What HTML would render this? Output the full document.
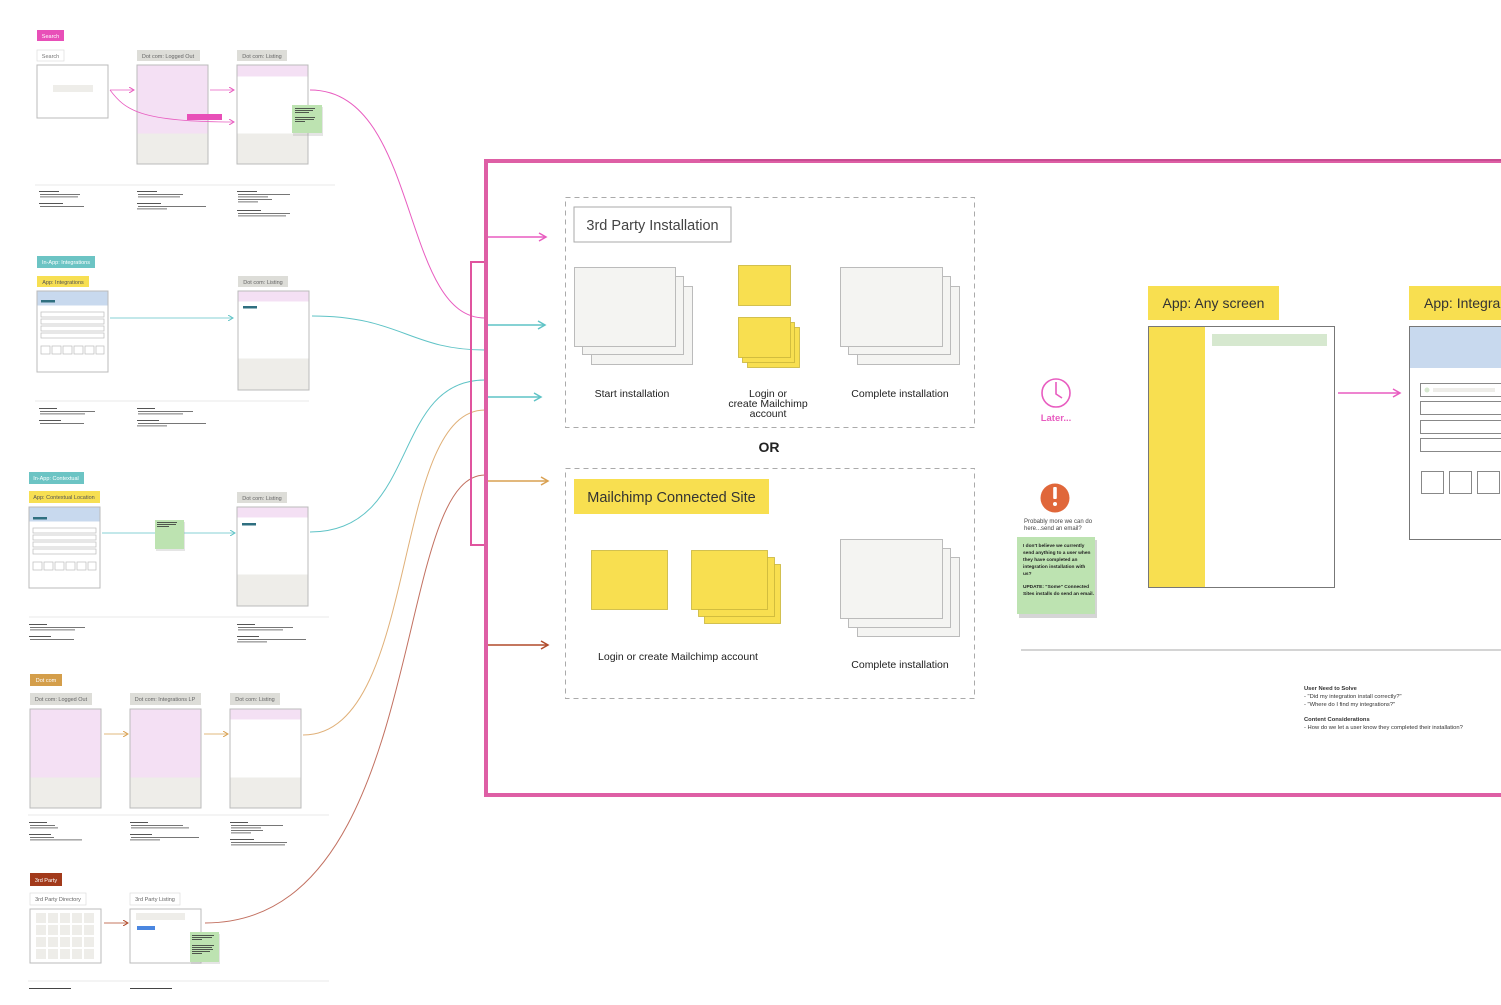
<!DOCTYPE html>
<html><head><meta charset="utf-8"><style>
html,body{margin:0;padding:0;background:#fff;}
svg{display:block;font-family:"Liberation Sans",sans-serif;}
</style></head><body>
<svg width="1501" height="1005" viewBox="0 0 1501 1005" xmlns="http://www.w3.org/2000/svg">
<defs>
<marker id="ap" markerWidth="10" markerHeight="10" refX="8" refY="5" orient="auto" markerUnits="userSpaceOnUse"><path d="M1,1 L8,5 L1,9" fill="none" stroke="#e85cc0" stroke-width="1.5"/></marker>
<marker id="at" markerWidth="10" markerHeight="10" refX="8" refY="5" orient="auto" markerUnits="userSpaceOnUse"><path d="M1,1 L8,5 L1,9" fill="none" stroke="#5fc3c6" stroke-width="1.5"/></marker>
<marker id="ao" markerWidth="10" markerHeight="10" refX="8" refY="5" orient="auto" markerUnits="userSpaceOnUse"><path d="M1,1 L8,5 L1,9" fill="none" stroke="#d9a050" stroke-width="1.5"/></marker>
<marker id="ab" markerWidth="10" markerHeight="10" refX="8" refY="5" orient="auto" markerUnits="userSpaceOnUse"><path d="M1,1 L8,5 L1,9" fill="none" stroke="#b04a2a" stroke-width="1.5"/></marker>
<marker id="sp" markerWidth="6" markerHeight="6" refX="5" refY="3" orient="auto" markerUnits="userSpaceOnUse"><path d="M0,0 L5,3 L0,6" fill="none" stroke="#e85cc0" stroke-width="1"/></marker>
<marker id="st" markerWidth="6" markerHeight="6" refX="5" refY="3" orient="auto" markerUnits="userSpaceOnUse"><path d="M0,0 L5,3 L0,6" fill="none" stroke="#5fc3c6" stroke-width="1"/></marker>
<marker id="so" markerWidth="6" markerHeight="6" refX="5" refY="3" orient="auto" markerUnits="userSpaceOnUse"><path d="M0,0 L5,3 L0,6" fill="none" stroke="#d9a050" stroke-width="1"/></marker>
<marker id="sb" markerWidth="6" markerHeight="6" refX="5" refY="3" orient="auto" markerUnits="userSpaceOnUse"><path d="M0,0 L5,3 L0,6" fill="none" stroke="#b04a2a" stroke-width="1"/></marker>
</defs>

<!-- ===== Section 1: Search ===== -->
<rect x="37" y="30" width="27" height="11" fill="#e84fb8"/>
<text x="50.5" y="38" font-size="5.5" fill="#fff" text-anchor="middle">Search</text>
<rect x="37" y="50" width="27" height="11" fill="#fff" stroke="#ddd" stroke-width="0.7"/>
<text x="50.5" y="58" font-size="5.5" fill="#777" text-anchor="middle">Search</text>
<rect x="37" y="65" width="71" height="53" fill="#fff" stroke="#bbb"/>
<rect x="53" y="85" width="40" height="7" fill="#eeede9"/>
<rect x="137" y="50" width="63" height="11" fill="#ddddd8"/>
<text x="168" y="58" font-size="5.5" fill="#666" text-anchor="middle">Dot com: Logged Out</text>
<rect x="137" y="65" width="71" height="99" fill="#eeede9" stroke="#bbb"/>
<rect x="137.5" y="65.5" width="70" height="68" fill="#f4e0f4"/>
<rect x="237" y="50" width="50" height="11" fill="#ddddd8"/>
<text x="262" y="58" font-size="5.5" fill="#666" text-anchor="middle">Dot com: Listing</text>
<rect x="237" y="65" width="71" height="99" fill="#eeede9" stroke="#bbb"/>
<rect x="237.5" y="65.5" width="70" height="68" fill="#fff"/>
<rect x="237.5" y="65.5" width="70" height="11" fill="#f4e0f4"/>
<rect x="187" y="114" width="35" height="6" fill="#e84fb8"/>
<rect x="293" y="107" width="30" height="29" fill="#a8a8a8" opacity="0.3"/>
<rect x="292" y="105" width="30" height="28" fill="#bde3b1"/>
<g fill="#333"><rect x="295" y="108" width="20" height="0.8"/><rect x="295" y="110" width="18" height="0.8"/><rect x="295" y="112" width="14" height="0.8"/><rect x="295" y="117" width="20" height="0.8"/><rect x="295" y="119" width="19" height="0.8"/><rect x="295" y="121" width="10" height="0.8"/></g>
<line x1="110" y1="90" x2="134" y2="90" stroke="#e85cc0" stroke-width="0.8" marker-end="url(#sp)"/>
<line x1="210" y1="90" x2="234" y2="90" stroke="#e85cc0" stroke-width="0.8" marker-end="url(#sp)"/>
<path d="M110,90 C125,110 140,122 234,122" fill="none" stroke="#e85cc0" stroke-width="0.8" marker-end="url(#sp)"/>
<line x1="35" y1="185" x2="335" y2="185" stroke="#e8e8e8" stroke-width="1"/>
<g fill="#555">
<rect x="39" y="191" width="20" height="1"/><rect x="40" y="194" width="40" height="0.8"/><rect x="40" y="196.5" width="38" height="0.8"/><rect x="39" y="203" width="24" height="1"/><rect x="40" y="206" width="44" height="0.8"/>
<rect x="137" y="191" width="20" height="1"/><rect x="138" y="194" width="45" height="0.8"/><rect x="138" y="196.5" width="42" height="0.8"/><rect x="137" y="203" width="24" height="1"/><rect x="138" y="206" width="68" height="0.8"/><rect x="137" y="208.5" width="30" height="0.8"/>
<rect x="237" y="191" width="20" height="1"/><rect x="238" y="194" width="52" height="0.8"/><rect x="238" y="196.5" width="30" height="0.8"/><rect x="238" y="199" width="34" height="0.8"/><rect x="238" y="201.5" width="20" height="0.8"/><rect x="237" y="210" width="24" height="1"/><rect x="238" y="213" width="52" height="0.8"/><rect x="238" y="215.5" width="48" height="0.8"/>
</g>

<!-- ===== Section 2: In-App Integrations ===== -->
<rect x="37" y="256" width="58" height="12" fill="#6cc4c4"/>
<text x="66" y="264" font-size="5.5" fill="#fff" text-anchor="middle">In-App: Integrations</text>
<rect x="37" y="276" width="52" height="11" fill="#f7df52"/>
<text x="63" y="284" font-size="5.5" fill="#555" text-anchor="middle">App: Integrations</text>
<rect x="37" y="291" width="71" height="81" fill="#fff" stroke="#bbb"/>
<rect x="37.5" y="291.5" width="70" height="14" fill="#c8d9ee"/>
<rect x="41" y="300" width="14" height="2.5" fill="#2f6f80"/>
<g fill="none" stroke="#bbb" stroke-width="0.7">
<rect x="41" y="312" width="63" height="5"/><rect x="41" y="319" width="63" height="5"/><rect x="41" y="326" width="63" height="5"/><rect x="41" y="333" width="63" height="5"/>
<rect x="41" y="346" width="9" height="8"/><rect x="52" y="346" width="9" height="8"/><rect x="63" y="346" width="9" height="8"/><rect x="74" y="346" width="9" height="8"/><rect x="85" y="346" width="9" height="8"/><rect x="96" y="346" width="8" height="8"/>
</g>
<line x1="110" y1="318" x2="233" y2="318" stroke="#5fc3c6" stroke-width="0.7" marker-end="url(#st)"/>
<rect x="238" y="276" width="50" height="11" fill="#ddddd8"/>
<text x="263" y="284" font-size="5.5" fill="#666" text-anchor="middle">Dot com: Listing</text>
<rect x="238" y="291" width="71" height="99" fill="#eeede9" stroke="#bbb"/>
<rect x="238.5" y="291.5" width="70" height="67" fill="#fff"/>
<rect x="238.5" y="291.5" width="70" height="10" fill="#f4e0f4"/>
<rect x="243" y="306" width="14" height="2.5" fill="#2f6f80"/>
<line x1="35" y1="401" x2="309" y2="401" stroke="#e8e8e8" stroke-width="1"/>
<g fill="#555">
<rect x="39" y="408" width="18" height="1"/><rect x="40" y="411" width="55" height="0.8"/><rect x="40" y="413.5" width="45" height="0.8"/><rect x="39" y="420" width="22" height="1"/><rect x="40" y="423" width="44" height="0.8"/>
<rect x="137" y="408" width="18" height="1"/><rect x="138" y="411" width="55" height="0.8"/><rect x="138" y="413.5" width="45" height="0.8"/><rect x="137" y="420" width="22" height="1"/><rect x="138" y="423" width="68" height="0.8"/><rect x="137" y="425.5" width="30" height="0.8"/>
</g>

<!-- ===== Section 3: In-App Contextual ===== -->
<rect x="29" y="472" width="55" height="12" fill="#6cc4c4"/>
<text x="56" y="480" font-size="5.5" fill="#fff" text-anchor="middle">In-App: Contextual</text>
<rect x="29" y="491" width="71" height="12" fill="#f7df52"/>
<text x="64" y="499" font-size="5.5" fill="#555" text-anchor="middle">App: Contextual Location</text>
<rect x="29" y="507" width="71" height="81" fill="#fff" stroke="#bbb"/>
<rect x="29.5" y="507.5" width="70" height="14" fill="#c8d9ee"/>
<rect x="33" y="517" width="14" height="2.5" fill="#2f6f80"/>
<g fill="none" stroke="#bbb" stroke-width="0.7">
<rect x="33" y="528" width="63" height="5"/><rect x="33" y="535" width="63" height="5"/><rect x="33" y="542" width="63" height="5"/><rect x="33" y="549" width="63" height="5"/>
<rect x="33" y="562" width="9" height="8"/><rect x="44" y="562" width="9" height="8"/><rect x="55" y="562" width="9" height="8"/><rect x="66" y="562" width="9" height="8"/><rect x="77" y="562" width="9" height="8"/><rect x="88" y="562" width="8" height="8"/>
</g>
<line x1="102" y1="533" x2="235" y2="533" stroke="#5fc3c6" stroke-width="0.7" marker-end="url(#st)"/>
<rect x="156" y="522" width="29" height="29" fill="#a8a8a8" opacity="0.3"/>
<rect x="155" y="520" width="29" height="29" fill="#bde3b1"/>
<g fill="#333"><rect x="157" y="522" width="20" height="0.8"/><rect x="157" y="524" width="19" height="0.8"/><rect x="157" y="526" width="12" height="0.8"/></g>
<rect x="237" y="492" width="50" height="11" fill="#ddddd8"/>
<text x="262" y="500" font-size="5.5" fill="#666" text-anchor="middle">Dot com: Listing</text>
<rect x="237" y="507" width="71" height="99" fill="#eeede9" stroke="#bbb"/>
<rect x="237.5" y="507.5" width="70" height="67" fill="#fff"/>
<rect x="237.5" y="507.5" width="70" height="10" fill="#f4e0f4"/>
<rect x="242" y="523" width="14" height="2.5" fill="#2f6f80"/>
<line x1="29" y1="617" x2="329" y2="617" stroke="#e8e8e8" stroke-width="1"/>
<g fill="#555">
<rect x="29" y="624" width="18" height="1"/><rect x="30" y="627" width="55" height="0.8"/><rect x="30" y="629.5" width="45" height="0.8"/><rect x="29" y="636" width="22" height="1"/><rect x="30" y="639" width="44" height="0.8"/>
<rect x="237" y="624" width="18" height="1"/><rect x="238" y="627" width="55" height="0.8"/><rect x="238" y="629.5" width="45" height="0.8"/><rect x="237" y="636" width="22" height="1"/><rect x="238" y="639" width="68" height="0.8"/><rect x="237" y="641.5" width="30" height="0.8"/>
</g>

<!-- ===== Section 4: Dot com ===== -->
<rect x="30" y="674" width="32" height="12" fill="#d49e4a"/>
<text x="46" y="682" font-size="5.5" fill="#fff" text-anchor="middle">Dot com</text>
<rect x="30" y="693" width="62" height="12" fill="#ddddd8"/>
<text x="61" y="701" font-size="5.5" fill="#666" text-anchor="middle">Dot com: Logged Out</text>
<rect x="130" y="693" width="71" height="12" fill="#ddddd8"/>
<text x="165" y="701" font-size="5.5" fill="#666" text-anchor="middle">Dot com: Integrations LP</text>
<rect x="230" y="693" width="50" height="12" fill="#ddddd8"/>
<text x="255" y="701" font-size="5.5" fill="#666" text-anchor="middle">Dot com: Listing</text>
<rect x="30" y="709" width="71" height="99" fill="#eeede9" stroke="#bbb"/>
<rect x="30.5" y="709.5" width="70" height="68" fill="#f4e0f4"/>
<rect x="130" y="709" width="71" height="99" fill="#eeede9" stroke="#bbb"/>
<rect x="130.5" y="709.5" width="70" height="68" fill="#f4e0f4"/>
<rect x="230" y="709" width="71" height="99" fill="#eeede9" stroke="#bbb"/>
<rect x="230.5" y="709.5" width="70" height="68" fill="#fff"/>
<rect x="230.5" y="709.5" width="70" height="10" fill="#f4e0f4"/>
<line x1="104" y1="734" x2="128" y2="734" stroke="#d9a050" stroke-width="0.8" marker-end="url(#so)"/>
<line x1="204" y1="734" x2="228" y2="734" stroke="#d9a050" stroke-width="0.8" marker-end="url(#so)"/>
<line x1="28" y1="815" x2="329" y2="815" stroke="#e8e8e8" stroke-width="1"/>
<g fill="#555">
<rect x="29" y="822" width="18" height="1"/><rect x="30" y="825" width="25" height="0.8"/><rect x="30" y="827.5" width="28" height="0.8"/><rect x="29" y="834" width="22" height="1"/><rect x="30" y="837" width="24" height="0.8"/><rect x="30" y="839.5" width="52" height="0.8"/>
<rect x="130" y="822" width="18" height="1"/><rect x="131" y="825" width="52" height="0.8"/><rect x="131" y="827.5" width="58" height="0.8"/><rect x="130" y="834" width="22" height="1"/><rect x="131" y="837" width="68" height="0.8"/><rect x="130" y="839.5" width="30" height="0.8"/>
<rect x="230" y="822" width="18" height="1"/><rect x="231" y="825" width="52" height="0.8"/><rect x="231" y="827.5" width="30" height="0.8"/><rect x="231" y="830" width="32" height="0.8"/><rect x="231" y="832.5" width="20" height="0.8"/><rect x="230" y="839" width="24" height="1"/><rect x="231" y="842" width="56" height="0.8"/><rect x="231" y="844.5" width="54" height="0.8"/>
</g>

<!-- ===== Section 5: 3rd Party ===== -->
<rect x="30" y="873" width="32" height="13" fill="#a23a1b"/>
<text x="46" y="882" font-size="5.5" fill="#fff" text-anchor="middle">3rd Party</text>
<rect x="30" y="893" width="56" height="12" fill="#fff" stroke="#ddd" stroke-width="0.7"/>
<text x="58" y="901" font-size="5.5" fill="#666" text-anchor="middle">3rd Party Directory</text>
<rect x="130" y="893" width="50" height="12" fill="#fff" stroke="#ddd" stroke-width="0.7"/>
<text x="155" y="901" font-size="5.5" fill="#666" text-anchor="middle">3rd Party Listing</text>
<rect x="30" y="909" width="71" height="54" fill="#fff" stroke="#bbb"/>
<g fill="#eeede9">
<rect x="36" y="913" width="10" height="10"/><rect x="48" y="913" width="10" height="10"/><rect x="60" y="913" width="10" height="10"/><rect x="72" y="913" width="10" height="10"/><rect x="84" y="913" width="10" height="10"/>
<rect x="36" y="925" width="10" height="10"/><rect x="48" y="925" width="10" height="10"/><rect x="60" y="925" width="10" height="10"/><rect x="72" y="925" width="10" height="10"/><rect x="84" y="925" width="10" height="10"/>
<rect x="36" y="937" width="10" height="10"/><rect x="48" y="937" width="10" height="10"/><rect x="60" y="937" width="10" height="10"/><rect x="72" y="937" width="10" height="10"/><rect x="84" y="937" width="10" height="10"/>
<rect x="36" y="949" width="10" height="10"/><rect x="48" y="949" width="10" height="10"/><rect x="60" y="949" width="10" height="10"/><rect x="72" y="949" width="10" height="10"/><rect x="84" y="949" width="10" height="10"/>
</g>
<rect x="130" y="909" width="71" height="54" fill="#fff" stroke="#bbb"/>
<rect x="136" y="913" width="49" height="7" fill="#eeede9"/>
<rect x="137" y="926" width="18" height="4" fill="#4a86e0"/>
<rect x="191" y="934" width="29" height="30" fill="#a8a8a8" opacity="0.3"/>
<rect x="190" y="932" width="29" height="30" fill="#bde3b1"/>
<g fill="#333"><rect x="192" y="935" width="22" height="0.8"/><rect x="192" y="937" width="20" height="0.8"/><rect x="192" y="939" width="10" height="0.8"/><rect x="192" y="945" width="22" height="0.8"/><rect x="192" y="947" width="20" height="0.8"/><rect x="192" y="949" width="21" height="0.8"/><rect x="192" y="951" width="18" height="0.8"/><rect x="192" y="953" width="10" height="0.8"/></g>
<line x1="104" y1="923" x2="128" y2="923" stroke="#b04a2a" stroke-width="0.8" marker-end="url(#sb)"/>
<line x1="28" y1="981" x2="329" y2="981" stroke="#e8e8e8" stroke-width="1"/>
<g fill="#444"><rect x="29" y="988" width="42" height="1"/><rect x="130" y="988" width="42" height="1"/></g>

<!-- ===== Connecting curves ===== -->
<path d="M310,90 C420,90 400,318 485,318" fill="none" stroke="#e85cc0" stroke-width="1"/>
<path d="M312,316 C400,316 410,350 485,350" fill="none" stroke="#5fc3c6" stroke-width="1"/>
<path d="M310,532 C420,532 390,380 485,380" fill="none" stroke="#5fc3c6" stroke-width="1"/>
<path d="M303,735 C420,735 390,410 485,410" fill="none" stroke="#e0b078" stroke-width="1"/>
<path d="M205,923 C430,923 390,475 485,475" fill="none" stroke="#c27060" stroke-width="1"/>

<!-- bracket -->
<path d="M485,262 L471,262 L471,545 L485,545" fill="none" stroke="#e0549e" stroke-width="2"/>

<!-- ===== Big frame ===== -->
<rect x="486" y="161" width="1020" height="634" fill="none" stroke="#de5fa5" stroke-width="4"/>
<line x1="700" y1="160" x2="1501" y2="160" stroke="#c94c92" stroke-width="2"/>

<line x1="488" y1="237" x2="546" y2="237" stroke="#e85cc0" stroke-width="1.5" marker-end="url(#ap)"/>
<line x1="488" y1="325" x2="545" y2="325" stroke="#5fc3c6" stroke-width="1.5" marker-end="url(#at)"/>
<line x1="488" y1="397" x2="541" y2="397" stroke="#5fc3c6" stroke-width="1.5" marker-end="url(#at)"/>
<line x1="488" y1="481" x2="548" y2="481" stroke="#d9a050" stroke-width="1.5" marker-end="url(#ao)"/>
<line x1="488" y1="645" x2="548" y2="645" stroke="#b04a2a" stroke-width="1.5" marker-end="url(#ab)"/>

<!-- dashed box 1 -->
<rect x="565.5" y="197.5" width="409" height="230" fill="none" stroke="#aaa" stroke-width="1" stroke-dasharray="5,4"/>
<rect x="574" y="207" width="157" height="35" fill="#fff" stroke="#aaa"/>
<text x="652.5" y="230" font-size="14.5" fill="#444" text-anchor="middle">3rd Party Installation</text>
<g fill="#f4f4f2" stroke="#bbb">
<rect x="591.5" y="286.5" width="101" height="78"/><rect x="582.5" y="276.5" width="101" height="78"/><rect x="574.5" y="267.5" width="101" height="79"/>
<rect x="857.5" y="286.5" width="102" height="78"/><rect x="848.5" y="276.5" width="102" height="78"/><rect x="840.5" y="267.5" width="102" height="79"/>
</g>
<g fill="#f8df50" stroke="#c9b43a" stroke-width="0.8">
<rect x="738.5" y="265.5" width="52" height="40"/>
<rect x="747.5" y="327.5" width="52" height="40"/><rect x="742.5" y="322.5" width="52" height="40"/><rect x="738.5" y="317.5" width="52" height="40"/>
</g>
<g font-size="10.5" fill="#222" text-anchor="middle">
<text x="632" y="397">Start installation</text>
<text x="768" y="397">Login or</text>
<text x="768" y="407">create Mailchimp</text>
<text x="768" y="417">account</text>
<text x="900" y="397">Complete installation</text>
</g>
<text x="769" y="452" font-size="14" font-weight="bold" fill="#222" text-anchor="middle">OR</text>

<!-- dashed box 2 -->
<rect x="565.5" y="468.5" width="409" height="230" fill="none" stroke="#aaa" stroke-width="1" stroke-dasharray="5,4"/>
<rect x="574" y="479" width="195" height="35" fill="#f8df50"/>
<text x="671.5" y="502" font-size="14.5" fill="#333" text-anchor="middle">Mailchimp Connected Site</text>
<g fill="#f8df50" stroke="#c9b43a" stroke-width="0.8">
<rect x="591.5" y="550.5" width="76" height="59"/>
<rect x="704.5" y="564.5" width="76" height="59"/><rect x="698.5" y="557.5" width="76" height="59"/><rect x="691.5" y="550.5" width="76" height="59"/>
</g>
<g fill="#f4f4f2" stroke="#bbb">
<rect x="857.5" y="557.5" width="102" height="79"/><rect x="848.5" y="548.5" width="102" height="79"/><rect x="840.5" y="539.5" width="102" height="79"/>
</g>
<g font-size="10.5" fill="#222" text-anchor="middle">
<text x="678" y="660">Login or create Mailchimp account</text>
<text x="900" y="668">Complete installation</text>
</g>

<!-- Later / alert -->
<circle cx="1056" cy="393" r="14" fill="none" stroke="#e85cc0" stroke-width="1.6"/>
<path d="M1056,382 L1056,394 L1062,398" fill="none" stroke="#e85cc0" stroke-width="1.6"/>
<text x="1056" y="421" font-size="9.5" font-weight="bold" fill="#e85cc0" text-anchor="middle">Later...</text>
<circle cx="1055" cy="498" r="14.5" fill="#e0673a"/>
<rect x="1053.2" y="487" width="3.6" height="12" fill="#fff" rx="1"/>
<circle cx="1055" cy="504" r="2" fill="#fff"/>
<text x="1024" y="523" font-size="6" fill="#444">Probably more we can do</text>
<text x="1024" y="530" font-size="6" fill="#444">here...send an email?</text>
<rect x="1019" y="540" width="78" height="78" fill="#888" opacity="0.35"/>
<rect x="1017" y="537" width="78" height="77" fill="#bde3b1"/>
<g font-size="4.8" font-weight="bold" fill="#222">
<text x="1023" y="547">I don't believe we currently</text>
<text x="1023" y="554">send anything to a user when</text>
<text x="1023" y="561">they have completed an</text>
<text x="1023" y="568">integration installation with</text>
<text x="1023" y="575">us?</text>
<text x="1023" y="588">UPDATE: "Some" Connected</text>
<text x="1023" y="595">Sites installs do send an email.</text>
</g>
<line x1="1021" y1="650" x2="1501" y2="650" stroke="#aaa" stroke-width="1"/>
<g font-size="5.8" fill="#333">
<text x="1304" y="690" font-weight="bold">User Need to Solve</text>
<text x="1304" y="698">- "Did my integration install correctly?"</text>
<text x="1304" y="706">- "Where do I find my integrations?"</text>
<text x="1304" y="721" font-weight="bold">Content Considerations</text>
<text x="1304" y="729">- How do we let a user know they completed their installation?</text>
</g>

<!-- App: Any screen -->
<rect x="1148" y="286" width="131" height="34" fill="#f8df50"/>
<text x="1213.5" y="308" font-size="14" fill="#333" text-anchor="middle">App: Any screen</text>
<rect x="1148.5" y="326.5" width="186" height="261" fill="#fff" stroke="#777"/>
<rect x="1149" y="327" width="56" height="260" fill="#f8df50"/>
<rect x="1212" y="334" width="115" height="12" fill="#d6e8cf"/>
<line x1="1338" y1="393" x2="1400" y2="393" stroke="#e85cc0" stroke-width="1.5" marker-end="url(#ap)"/>

<!-- App: Integrations (cut) -->
<rect x="1409" y="286" width="100" height="34" fill="#f8df50"/>
<text x="1424" y="308" font-size="14" fill="#333">App: Integra</text>
<rect x="1409.5" y="326.5" width="100" height="213" fill="#fff" stroke="#777"/>
<rect x="1410" y="327" width="95" height="41" fill="#c8d9ee"/>
<g fill="none" stroke="#888">
<rect x="1420.5" y="383.5" width="90" height="13"/><rect x="1420.5" y="401.5" width="90" height="13"/><rect x="1420.5" y="420.5" width="90" height="13"/><rect x="1420.5" y="438.5" width="90" height="13"/>
<rect x="1421.5" y="471.5" width="22" height="22"/><rect x="1449.5" y="471.5" width="22" height="22"/><rect x="1477.5" y="471.5" width="22" height="22"/>
</g>
<circle cx="1427" cy="390" r="2.5" fill="#d6e8cf"/>
<rect x="1433" y="388" width="62" height="4" fill="#eeede9"/>
</svg>
</body></html>
